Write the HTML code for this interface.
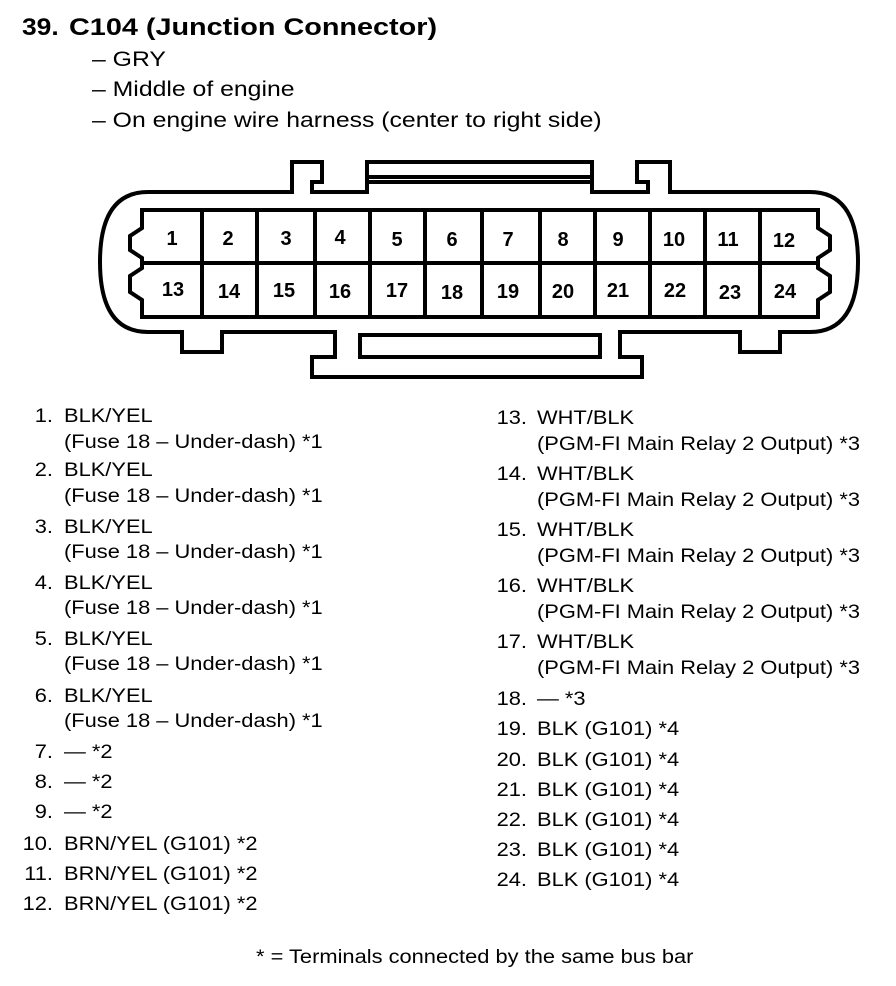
<!DOCTYPE html>
<html><head><meta charset="utf-8"><style>
body{margin:0;background:#fff;width:896px;height:986px;position:relative;overflow:hidden;font-family:"Liberation Sans",Arial,sans-serif;color:#000}
.t{position:absolute;white-space:nowrap;line-height:22px;transform-origin:0 50%}
.h{font-size:24px;font-weight:bold;line-height:28px;transform:scaleX(1.2)}
.s{font-size:21px;transform:scaleX(1.18)}
.l{font-size:19px;transform:scaleX(1.15)}
.n{position:absolute;white-space:nowrap;line-height:22px;font-size:19px;text-align:right;width:60px;transform:scaleX(1.15);transform-origin:100% 50%}
</style></head><body>
<div class="t h" style="left:22px;top:14px;transform:scaleX(1.1)">39.</div>
<div class="t h" style="left:69px;top:14px">C104 (Junction Connector)</div>
<div class="t s" style="left:92px;top:49px">– GRY</div>
<div class="t s" style="left:92px;top:79px">– Middle of engine</div>
<div class="t s" style="left:92px;top:110px">– On engine wire harness (center to right side)</div>

<svg style="position:absolute;left:0;top:0" width="896" height="400" viewBox="0 0 896 400">
<g fill="none" stroke="#000" stroke-width="4" stroke-linejoin="miter">
<path d="M292 192 V162 H322 V182 H312 V192 H367 V162 H592 V192 H648 V182 H637 V162 H670 V192 H810 Q858 192 858 262 Q858 332 810 332 H780 V352 H740 V332 H620 V357 H642 V377 H312 V357 H335 V332 H222 V352 H182 V332 H148 Q100 332 100 262 Q100 192 148 192 Z"/>
<path d="M367 177 H592 M367 182 H592"/>
<rect x="360" y="335" width="240" height="22"/>
<path d="M142 210 H818 V228 L830 236 V250 L818 258 V268 L830 276 V292 L818 300 V317 H142 V300 L130 292 V276 L142 268 V258 L130 250 V236 L142 228 Z"/>
<path d="M142 263 H818"/>
<path d="M202 210V317M257 210V317M315 210V317M370 210V317M425 210V317M482 210V317M540 210V317M595 210V317M650 210V317M705 210V317M760 210V317"/>
</g>
<g font-family="Liberation Sans,Arial,sans-serif" font-size="20" font-weight="bold" text-anchor="middle">
<text x="172" y="245">1</text><text x="228" y="245">2</text><text x="286" y="245">3</text><text x="340" y="244">4</text><text x="397" y="246">5</text><text x="452" y="246">6</text><text x="508" y="246">7</text><text x="563" y="246">8</text><text x="618" y="246">9</text><text x="674" y="246">10</text><text x="728" y="246">11</text><text x="784" y="247">12</text>
<text x="173" y="296">13</text><text x="229" y="298">14</text><text x="284" y="297">15</text><text x="340" y="298">16</text><text x="397" y="297">17</text><text x="452" y="299">18</text><text x="508" y="298">19</text><text x="563" y="298">20</text><text x="618" y="297">21</text><text x="675" y="297">22</text><text x="730" y="299">23</text><text x="785" y="298">24</text>
</g>
</svg>

<div class="n" style="left:-7px;top:406px">1.</div><div class="t l" style="left:64px;top:406px">BLK/YEL</div>
<div class="t l" style="left:64px;top:432px">(Fuse 18 – Under-dash) *1</div>
<div class="n" style="left:-7px;top:460px">2.</div><div class="t l" style="left:64px;top:460px">BLK/YEL</div>
<div class="t l" style="left:64px;top:486px">(Fuse 18 – Under-dash) *1</div>
<div class="n" style="left:-7px;top:517px">3.</div><div class="t l" style="left:64px;top:517px">BLK/YEL</div>
<div class="t l" style="left:64px;top:542px">(Fuse 18 – Under-dash) *1</div>
<div class="n" style="left:-7px;top:573px">4.</div><div class="t l" style="left:64px;top:573px">BLK/YEL</div>
<div class="t l" style="left:64px;top:598px">(Fuse 18 – Under-dash) *1</div>
<div class="n" style="left:-7px;top:629px">5.</div><div class="t l" style="left:64px;top:629px">BLK/YEL</div>
<div class="t l" style="left:64px;top:654px">(Fuse 18 – Under-dash) *1</div>
<div class="n" style="left:-7px;top:686px">6.</div><div class="t l" style="left:64px;top:686px">BLK/YEL</div>
<div class="t l" style="left:64px;top:711px">(Fuse 18 – Under-dash) *1</div>
<div class="n" style="left:-7px;top:742px">7.</div><div class="t l" style="left:64px;top:742px">— *2</div>
<div class="n" style="left:-7px;top:772px">8.</div><div class="t l" style="left:64px;top:772px">— *2</div>
<div class="n" style="left:-7px;top:802px">9.</div><div class="t l" style="left:64px;top:802px">— *2</div>
<div class="n" style="left:-7px;top:834px">10.</div><div class="t l" style="left:64px;top:834px">BRN/YEL (G101) *2</div>
<div class="n" style="left:-7px;top:864px">11.</div><div class="t l" style="left:64px;top:864px">BRN/YEL (G101) *2</div>
<div class="n" style="left:-7px;top:894px">12.</div><div class="t l" style="left:64px;top:894px">BRN/YEL (G101) *2</div>

<div class="n" style="left:467px;top:408px">13.</div><div class="t l" style="left:537px;top:408px">WHT/BLK</div>
<div class="t l" style="left:537px;top:434px">(PGM-FI Main Relay 2 Output) *3</div>
<div class="n" style="left:467px;top:464px">14.</div><div class="t l" style="left:537px;top:464px">WHT/BLK</div>
<div class="t l" style="left:537px;top:490px">(PGM-FI Main Relay 2 Output) *3</div>
<div class="n" style="left:467px;top:520px">15.</div><div class="t l" style="left:537px;top:520px">WHT/BLK</div>
<div class="t l" style="left:537px;top:546px">(PGM-FI Main Relay 2 Output) *3</div>
<div class="n" style="left:467px;top:576px">16.</div><div class="t l" style="left:537px;top:576px">WHT/BLK</div>
<div class="t l" style="left:537px;top:602px">(PGM-FI Main Relay 2 Output) *3</div>
<div class="n" style="left:467px;top:632px">17.</div><div class="t l" style="left:537px;top:632px">WHT/BLK</div>
<div class="t l" style="left:537px;top:658px">(PGM-FI Main Relay 2 Output) *3</div>
<div class="n" style="left:467px;top:689px">18.</div><div class="t l" style="left:537px;top:689px">— *3</div>
<div class="n" style="left:467px;top:719px">19.</div><div class="t l" style="left:537px;top:719px">BLK (G101) *4</div>
<div class="n" style="left:467px;top:750px">20.</div><div class="t l" style="left:537px;top:750px">BLK (G101) *4</div>
<div class="n" style="left:467px;top:780px">21.</div><div class="t l" style="left:537px;top:780px">BLK (G101) *4</div>
<div class="n" style="left:467px;top:810px">22.</div><div class="t l" style="left:537px;top:810px">BLK (G101) *4</div>
<div class="n" style="left:467px;top:840px">23.</div><div class="t l" style="left:537px;top:840px">BLK (G101) *4</div>
<div class="n" style="left:467px;top:870px">24.</div><div class="t l" style="left:537px;top:870px">BLK (G101) *4</div>

<div class="t l" style="left:256px;top:947px">* = Terminals connected by the same bus bar</div>
</body></html>
